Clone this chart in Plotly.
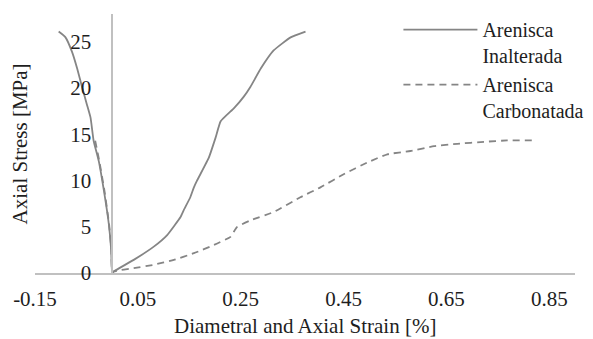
import plotly.graph_objects as go

# ---- data ----
# Arenisca Inalterada: diametral branch (negative strain), then axial branch
inalt_diam_x = [-0.104, -0.091, -0.078, -0.068, -0.058, -0.049, -0.042, -0.036, -0.026, -0.016, -0.0066, -0.0019, 0.0]
inalt_diam_y = [26.1, 25.5, 23.9, 22.1, 20.0, 18.2, 16.8, 14.3, 12.1, 8.9, 5.35, 2.5, 0.0]
inalt_axial_x = [0.0031, 0.042, 0.081, 0.107, 0.133, 0.139, 0.152, 0.159, 0.165, 0.188, 0.201, 0.211,
                 0.237, 0.256, 0.269, 0.289, 0.314, 0.347, 0.376]
inalt_axial_y = [0.17, 1.42, 2.85, 4.10, 6.05, 6.77, 8.19, 9.26, 9.98, 12.47, 14.61, 16.40,
                 17.82, 19.07, 20.14, 22.10, 24.06, 25.47, 26.10]

# Arenisca Carbonatada
carb_diam_x = [-0.033, -0.025, -0.015, -0.006, -0.0015, 0.0]
carb_diam_y = [14.3, 12.1, 8.9, 5.3, 2.5, 0.0]
carb_axial_x = [0.0031, 0.042, 0.081, 0.120, 0.159, 0.198, 0.230, 0.243, 0.269, 0.314, 0.366, 0.405,
                0.451, 0.496, 0.535, 0.580, 0.626, 0.671, 0.723, 0.768, 0.820]
carb_axial_y = [0.17, 0.53, 0.89, 1.42, 2.14, 3.03, 3.91, 4.98, 5.70, 6.59, 8.19, 9.26,
                10.70, 11.94, 12.83, 13.19, 13.72, 13.97, 14.18, 14.33, 14.33]

x_ticks = [-0.15, 0.05, 0.25, 0.45, 0.65, 0.85]
x_tick_text = ["-0.15", "0.05", "0.25", "0.45", "0.65", "0.85"]
y_ticks = [0, 5, 10, 15, 20, 25]
x_range = [-0.15, 0.90]
y_range = [0, 28]

series_names = ["Arenisca<br>Inalterada", "Arenisca<br>Carbonatada"]

FONT = "Liberation Serif"
TXT = "#1e1e1e"
LINE = "#858585"
AXIS = "#c0c0c0"

fig = go.Figure()
fig.add_trace(go.Scatter(
    x=inalt_diam_x + inalt_axial_x, y=inalt_diam_y + inalt_axial_y,
    mode="lines", name=series_names[0],
    line=dict(color=LINE, width=1.8, shape="spline", smoothing=0.4),
))
fig.add_trace(go.Scatter(
    x=carb_diam_x + carb_axial_x, y=carb_diam_y + carb_axial_y,
    mode="lines", name=series_names[1],
    line=dict(color=LINE, width=1.8, dash="7px,5px", shape="spline", smoothing=0.4),
))

yaxis_pos = (0 - x_range[0]) / (x_range[1] - x_range[0])

# the page body adds an 8px offset, so the figure is sized to fit the window
fig.update_layout(
    width=585, height=331,
    margin=dict(l=27, r=18, t=2, b=65.7),
    paper_bgcolor="white", plot_bgcolor="white",
    font=dict(family=FONT, size=21, color=TXT),
    showlegend=True,
    legend=dict(
        x=0.673, y=1.015, xanchor="left", yanchor="top",
        bgcolor="rgba(0,0,0,0)", borderwidth=0,
        font=dict(family=FONT, size=20, color=TXT),
        valign="top", itemwidth=74,
    ),
    xaxis=dict(
        range=x_range, tickvals=x_ticks, ticktext=x_tick_text,
        showgrid=False, zeroline=False, showline=True, automargin=False,
        linecolor=AXIS, linewidth=1.5, ticks="",
        ticklabelstandoff=6,
        tickfont=dict(family=FONT, size=21, color=TXT),
    ),
    yaxis=dict(
        range=y_range, tickvals=y_ticks,
        anchor="free", position=yaxis_pos, automargin=False,
        showgrid=False, zeroline=False, showline=True,
        linecolor=AXIS, linewidth=1.5, ticks="",
        ticklabelstandoff=16,
        tickfont=dict(family=FONT, size=21, color=TXT),
    ),
    annotations=[
        dict(text="Diametral and Axial Strain [%]", xref="paper", yref="paper",
             x=0.5, y=-0.204, xanchor="center", yanchor="middle", showarrow=False,
             font=dict(family=FONT, size=21, color=TXT)),
        dict(text="Axial Stress [MPa]", xref="paper", yref="paper",
             x=-0.028, y=0.5, xanchor="center", yanchor="middle", showarrow=False,
             textangle=-90, font=dict(family=FONT, size=21, color=TXT)),
    ],
)

fig.write_html("out.html")
